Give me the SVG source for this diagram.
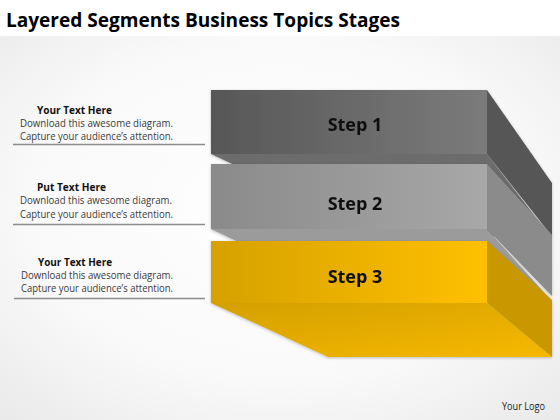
<svg xmlns="http://www.w3.org/2000/svg" width="560" height="420" viewBox="0 0 560 420">
  <defs>
    <radialGradient id="bg" cx="0.5" cy="0.45" r="0.75">
      <stop offset="0" stop-color="#ffffff"/>
      <stop offset="0.6" stop-color="#f9f9f9"/>
      <stop offset="1" stop-color="#e9e9e9"/>
    </radialGradient>
    <linearGradient id="f1" x1="0" y1="0" x2="1" y2="0">
      <stop offset="0" stop-color="#575757"/>
      <stop offset="1" stop-color="#7b7b7b"/>
    </linearGradient>
    <linearGradient id="f2" x1="0" y1="0" x2="1" y2="0">
      <stop offset="0" stop-color="#8a8a8a"/>
      <stop offset="1" stop-color="#a8a8a8"/>
    </linearGradient>
    <linearGradient id="f3" x1="0" y1="0" x2="1" y2="0">
      <stop offset="0" stop-color="#d6a100"/>
      <stop offset="1" stop-color="#ffc000"/>
    </linearGradient>
    <linearGradient id="b3" x1="0" y1="0" x2="1" y2="1">
      <stop offset="0" stop-color="#d4a000"/>
      <stop offset="1" stop-color="#f6b800"/>
    </linearGradient>
    <filter id="sh" x="-10%" y="-10%" width="120%" height="130%">
      <feDropShadow dx="0" dy="1" stdDeviation="1.5" flood-color="#000" flood-opacity="0.25"/>
    </filter>
  </defs>
  <style>
    .hd { font-family: "Open Sans", "Liberation Sans", sans-serif; font-weight: bold; font-size: 11px; fill: #111; }
    .bd { font-family: "Open Sans", "Liberation Sans", sans-serif; font-size: 10.5px; fill: #3a3a3a; }
    .rule { stroke: #8c8c8c; stroke-width: 1.5; }
    .step { font-family: "Open Sans", "Liberation Sans", sans-serif; font-weight: bold; font-size: 18px; fill: #111; text-anchor: middle; }
  </style>

  <rect x="0" y="0" width="560" height="420" fill="#ffffff"/>
  <rect x="0" y="36" width="560" height="384" fill="url(#bg)"/>

  <text x="6" y="27" font-family="'Open Sans', 'Liberation Sans', sans-serif" font-weight="bold" font-size="20" fill="#000" textLength="394" lengthAdjust="spacingAndGlyphs">Layered Segments Business Topics Stages</text>

  <g id="text1">
    <text class="hd" x="37" y="114" textLength="75" lengthAdjust="spacingAndGlyphs">Your Text Here</text>
    <text class="bd" x="20" y="127" textLength="153" lengthAdjust="spacingAndGlyphs">Download this awesome diagram.</text>
    <text class="bd" x="20" y="140" textLength="153" lengthAdjust="spacingAndGlyphs">Capture your audience’s attention.</text>
    <line class="rule" x1="13" y1="144.5" x2="205" y2="144.5"/>
  </g>
  <g id="text2">
    <text class="hd" x="37" y="191" textLength="69" lengthAdjust="spacingAndGlyphs">Put Text Here</text>
    <text class="bd" x="20" y="204" textLength="152" lengthAdjust="spacingAndGlyphs">Download this awesome diagram.</text>
    <text class="bd" x="20" y="218" textLength="153" lengthAdjust="spacingAndGlyphs">Capture your audience’s attention.</text>
    <line class="rule" x1="13" y1="224.5" x2="205" y2="224.5"/>
  </g>
  <g id="text3">
    <text class="hd" x="38" y="266" textLength="74" lengthAdjust="spacingAndGlyphs">Your Text Here</text>
    <text class="bd" x="21" y="279" textLength="152" lengthAdjust="spacingAndGlyphs">Download this awesome diagram.</text>
    <text class="bd" x="21" y="292" textLength="152" lengthAdjust="spacingAndGlyphs">Capture your audience’s attention.</text>
    <line class="rule" x1="14" y1="298.5" x2="205" y2="298.5"/>
  </g>

  <g id="step1" filter="url(#sh)">
    <polygon points="211,154 487,154 550,236 385,236" fill="#6c6c6c"/>
    <polygon points="487,90 552,183 552,236 487,154" fill="#575757"/>
    <rect x="211" y="90" width="276" height="64" fill="url(#f1)"/>
    <text class="step" x="355" y="131">Step 1</text>
  </g>
  <g id="step2" filter="url(#sh)">
    <polygon points="211,229 487,229 550,299 358,299" fill="#9b9b9b"/>
    <polygon points="487,164 552,235 552,296 487,229" fill="#8b8b8b"/>
    <rect x="211" y="164" width="276" height="65" fill="url(#f2)"/>
    <text class="step" x="355" y="210">Step 2</text>
  </g>
  <g id="step3" filter="url(#sh)">
    <polygon points="211,303 487,303 552,357 328,357" fill="url(#b3)"/>
    <polygon points="487,241 552,300 552,357 487,303" fill="#c99800"/>
    <rect x="211" y="241" width="276" height="62" fill="url(#f3)"/>
    <text class="step" x="355" y="283">Step 3</text>
  </g>

  <g id="connectors"/>

  <text x="502" y="410" font-family="'Open Sans', 'Liberation Sans', sans-serif" font-size="10" fill="#222" textLength="43" lengthAdjust="spacingAndGlyphs">Your Logo</text>
</svg>
